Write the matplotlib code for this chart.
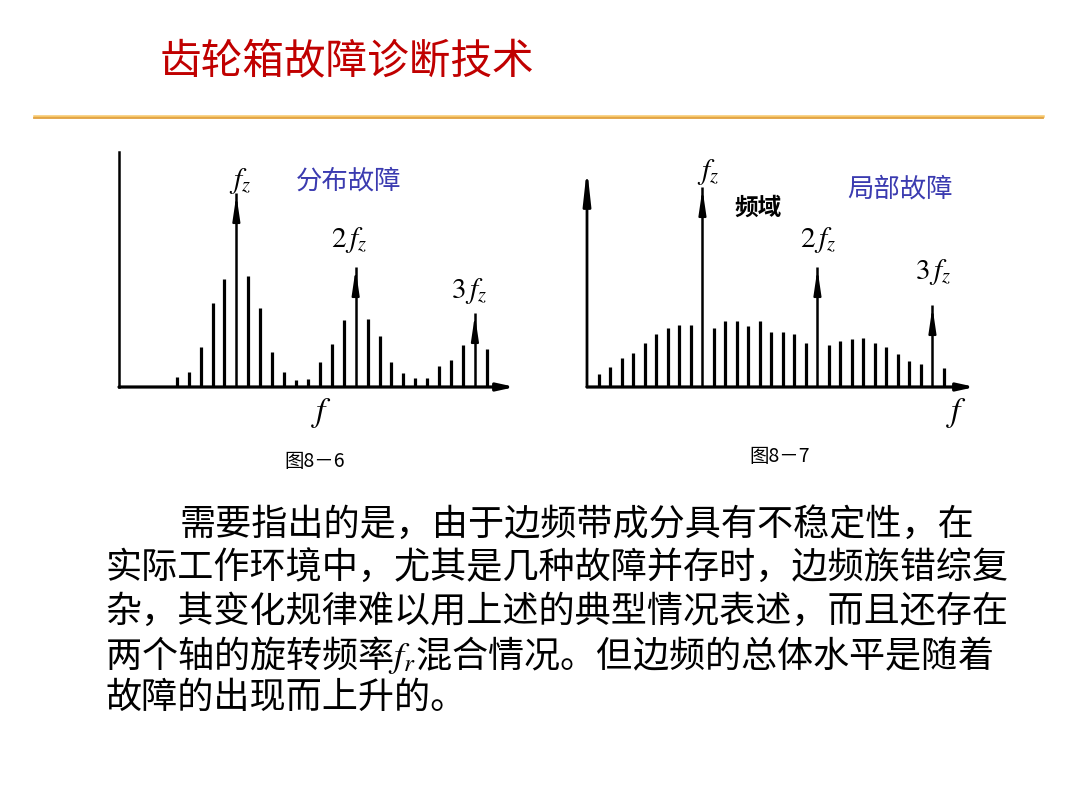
import matplotlib
matplotlib.use("Agg")
import matplotlib.pyplot as plt
import numpy as np

plt.rcParams['font.family'] = ['Noto Sans CJK SC', 'DejaVu Sans']
plt.rcParams['mathtext.fontset'] = 'stix'

W, H = 1076, 808

# 图8-6 分布故障: 谱线幅值 (基线以上, 像素单位估读)
dist_amp = [10, 15, 40, 84, 108, 194, 111, 79, 35, 15, 7, 8, 25, 43, 67,
            120, 68, 51, 25, 14, 9, 9, 21, 27, 42, 74, 38]
dist_peaks = [5, 15, 25]

# 图8-7 局部故障
local_amp = [13, 20, 29, 34, 44, 53, 59, 62, 62, 200, 59, 66, 66, 61, 66,
             55, 55, 53, 44, 120, 42, 46, 48, 49, 44, 40, 33, 26, 23, 82, 19]
local_peaks = [9, 19, 29]

title = "齿轮箱故障诊断技术"
body = [
    "需要指出的是，由于边频带成分具有不稳定性，在",
    "实际工作环境中，尤其是几种故障并存时，边频族错综复",
    "杂，其变化规律难以用上述的典型情况表述，而且还存在",
    "两个轴的旋转频率$f_r$混合情况。但边频的总体水平是随着",
    "故障的出现而上升的。",
]


def fx(px):
    return px / W


def fy(py):
    return 1 - py / H


fig = plt.figure(figsize=(W / 100, H / 100), dpi=100)
fig.set_facecolor('w')

# 标题与金色分隔线
fig.text(fx(160), fy(62), title, color='#c00000', fontsize=30, va='center', ha='left')
fig.add_artist(plt.Line2D([fx(34), fx(1043)], [fy(115.5), fy(115.5)], color='#f6c76a', lw=1.8))
fig.add_artist(plt.Line2D([fx(34), fx(1043)], [fy(118.3), fy(118.3)], color='#e0a040', lw=1.3))


def spectrum(ax, amps, peaks, xlim, ymax, top_arrow):
    x = np.arange(len(amps))
    amps = np.array(amps, dtype=float)
    norm = [i for i in x if i not in peaks]
    ax.vlines(x[norm], 0, amps[norm], color='black', lw=2.3)
    for p in peaks:
        ax.vlines(p, 0, amps[p], color='black', lw=1.8)
        # 纺锤形箭头
        ax.annotate('', xy=(p, amps[p] - 2), xytext=(p, amps[p] - 24),
                    arrowprops=dict(arrowstyle='-|>,head_length=1.5,head_width=0.22',
                                    color='black', lw=1.5, shrinkA=0, shrinkB=0))
    ax.set_xlim(*xlim)
    ax.set_ylim(0, ymax)
    ax.axis('off')
    # 坐标轴
    ax.annotate('', xy=(1, 0), xytext=(0, 0), xycoords='axes fraction',
                arrowprops=dict(arrowstyle='-|>,head_length=1.0,head_width=0.22',
                                color='black', lw=2.3, shrinkA=0, shrinkB=0))
    if top_arrow:
        ax.annotate('', xy=(0, 1), xytext=(0, 0), xycoords='axes fraction',
                    arrowprops=dict(arrowstyle='-|>,head_length=2.0,head_width=0.22',
                                    color='black', lw=2, shrinkA=0, shrinkB=0))
    else:
        ax.plot([0, 0], [0, 1], transform=ax.transAxes, color='black', lw=1.8,
                clip_on=False)


ax1 = fig.add_axes([fx(119), fy(387), fx(515 - 119), (387 - 152) / H])
spectrum(ax1, dist_amp, dist_peaks, (-4.84, 28.36), 235, False)

ax2 = fig.add_axes([fx(587), fy(387), fx(975 - 587), (387 - 168) / H])
spectrum(ax2, local_amp, local_peaks, (-1.04, 32.7), 219, True)

# 图中标注
lab = dict(fontsize=21, color='black', va='center', ha='center')
fig.text(fx(240), fy(181), r'$f_z$', **lab)
fig.text(fx(349), fy(240), r'$2\,f_z$', **lab)
fig.text(fx(469), fy(291), r'$3\,f_z$', **lab)
fig.text(fx(322), fy(413), r'$f$', fontsize=24, va='center', ha='center')
fig.text(fx(349), fy(181), "分布故障", fontsize=19, color='#3b3bb0', va='center', ha='center')

fig.text(fx(708), fy(172), r'$f_z$', **lab)
fig.text(fx(818), fy(240), r'$2\,f_z$', **lab)
fig.text(fx(933), fy(272), r'$3\,f_z$', **lab)
fig.text(fx(957), fy(413), r'$f$', fontsize=24, va='center', ha='center')
fig.text(fx(900), fy(189), "局部故障", fontsize=19, color='#3b3bb0', va='center', ha='center')
fig.text(fx(758), fy(208), "频域", fontsize=17, fontweight='bold', color='black',
         va='center', ha='center')

fig.text(fx(315), fy(462), "图8－6", fontsize=14, va='center', ha='center')
fig.text(fx(780), fy(457), "图8－7", fontsize=14, va='center', ha='center')

# 正文
ys = [525, 569, 612, 655, 698]
for i, (line, yy) in enumerate(zip(body, ys)):
    x0 = 180 if i == 0 else 105
    fig.text(fx(x0), fy(yy), line, fontsize=26, va='center', ha='left', color='black')

fig.savefig('out.png', dpi=100, facecolor='w')
